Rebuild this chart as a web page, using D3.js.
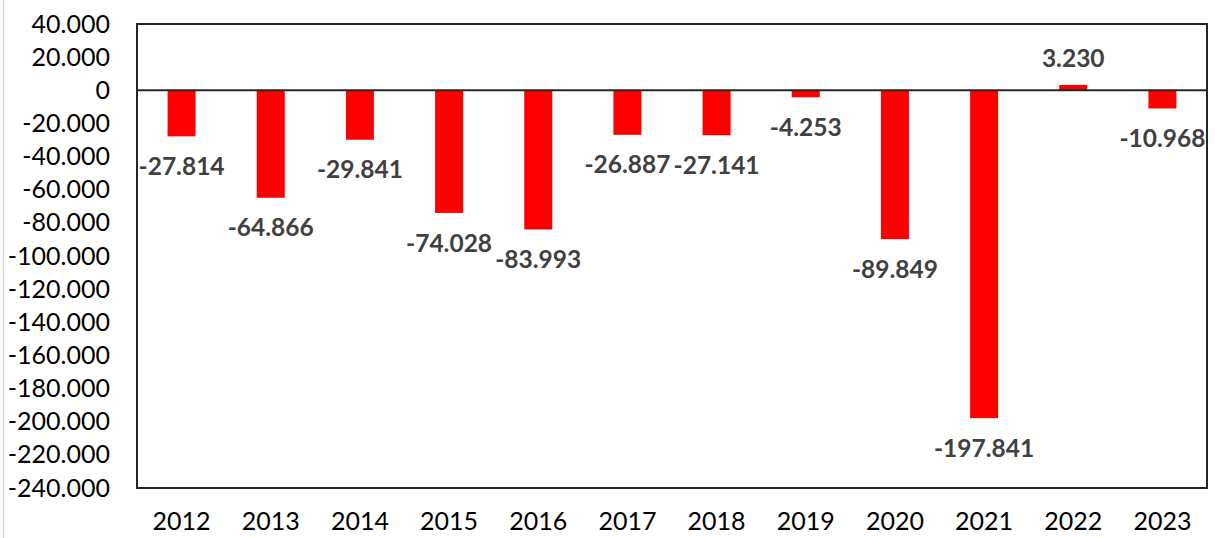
<!DOCTYPE html>
<html>
<head>
<meta charset="utf-8">
<script src="https://cdn.jsdelivr.net/npm/d3@7"></script>
<style>
  html, body { margin: 0; padding: 0; background: #fff; }
  svg { display: block; }
</style>
</head>
<body>
<svg id="chart" width="1215" height="538"></svg>
<script>
const categories = ["2012","2013","2014","2015","2016","2017","2018","2019","2020","2021","2022","2023"];
const values = [-27814, -64866, -29841, -74028, -83993, -26887, -27141, -4253, -89849, -197841, 3230, -10968];
const yTicks = [40000, 20000, 0, -20000, -40000, -60000, -80000, -100000, -120000, -140000, -160000, -180000, -200000, -220000, -240000];

const W = 1215, H = 538;
const margin = { left: 137, right: 8, top: 24, bottom: 50 };
const svg = d3.select("#chart");

const loc = d3.formatLocale({ decimal: ",", thousands: ".", grouping: [3], currency: ["", ""], minus: "-" });
const fmt = loc.format(",d");

const x = d3.scaleBand().domain(categories).range([margin.left, W - margin.right]).padding(0);
const y = d3.scaleLinear().domain([-240000, 40000]).range([H - margin.bottom, margin.top]);

// chart-area left edge line
svg.append("line").attr("x1", 3.5).attr("x2", 3.5).attr("y1", 0).attr("y2", H)
  .attr("stroke", "#d9d9d9").attr("stroke-width", 1.5);

const barW = x.bandwidth() * 0.314;

svg.append("g").selectAll("rect").data(values).join("rect")
  .attr("x", (d, i) => x(categories[i]) + x.bandwidth() / 2 - barW / 2)
  .attr("width", barW)
  .attr("y", d => Math.min(y(d), y(0)))
  .attr("height", d => Math.abs(y(d) - y(0)))
  .attr("fill", "#ff0000");

// plot border
svg.append("rect")
  .attr("x", margin.left).attr("y", margin.top)
  .attr("width", W - margin.right - margin.left)
  .attr("height", y(-240000) - margin.top)
  .attr("fill", "none").attr("stroke", "#262626").attr("stroke-width", 2);

// zero line
svg.append("line").attr("x1", margin.left).attr("x2", W - margin.right)
  .attr("y1", y(0)).attr("y2", y(0)).attr("stroke", "#262626").attr("stroke-width", 2);

// y axis labels
const yAxis = d3.axisLeft(y).tickValues(yTicks).tickFormat(fmt).tickSize(0).tickPadding(27);
const gy = svg.append("g").attr("transform", `translate(${margin.left},0)`).call(yAxis);
gy.select(".domain").remove();
gy.selectAll("text").attr("font-family", "Lato, 'Open Sans', sans-serif").attr("font-size", 25).attr("fill", "#000");

// x axis labels
const xAxis = d3.axisBottom(x).tickSize(0).tickPadding(24);
const gx = svg.append("g").attr("transform", `translate(0,${y(-240000)})`).call(xAxis);
gx.select(".domain").remove();
gx.selectAll("text").attr("font-family", "Lato, 'Open Sans', sans-serif").attr("font-size", 25).attr("fill", "#000");

// data labels
svg.append("g").selectAll("text").data(values).join("text")
  .attr("x", (d, i) => x(categories[i]) + x.bandwidth() / 2)
  .attr("y", d => d < 0 ? y(d) + 30 : y(d) - 27)
  .attr("dy", "0.35em")
  .attr("text-anchor", "middle")
  .attr("font-family", "Lato, 'Open Sans', sans-serif")
  .attr("font-weight", "bold")
  .attr("font-size", 24.5)
  .attr("fill", "#404040")
  .text(d => fmt(d));
</script>
</body>
</html>
